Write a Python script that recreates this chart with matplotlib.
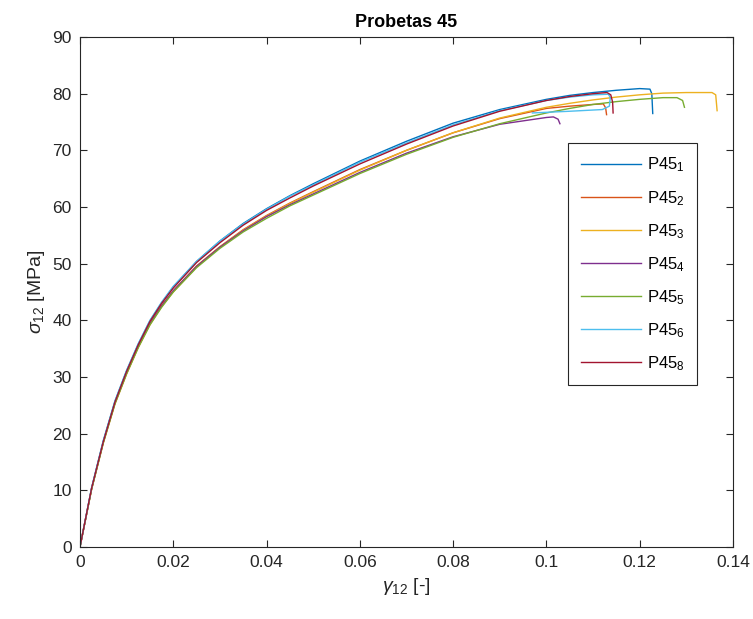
import matplotlib
matplotlib.use('Agg')
import matplotlib.pyplot as plt
from matplotlib import rcParams

rcParams['font.family'] = ['Liberation Sans', 'DejaVu Sans']
rcParams['mathtext.fontset'] = 'custom'
rcParams['mathtext.rm'] = 'Liberation Sans'
rcParams['mathtext.it'] = 'Liberation Sans:italic'
rcParams['xtick.direction'] = 'in'
rcParams['ytick.direction'] = 'in'

# strain [-] and stress [MPa], one pair per specimen
base_strain = [0, 0.0025, 0.005, 0.0075, 0.01, 0.0125, 0.015, 0.0175, 0.02,
               0.025, 0.03, 0.035, 0.04, 0.045, 0.05, 0.06, 0.07, 0.08, 0.09,
               0.10]

p1_strain = base_strain + [0.105, 0.11, 0.115, 0.12, 0.1222, 0.1226, 0.1228]
p1_stress = [0, 10.4, 18.7, 25.7, 31.1, 35.8, 39.9, 43.1, 45.9, 50.4, 54.0,
             57.1, 59.7, 62.0, 64.1, 68.1, 71.6, 74.8, 77.2, 79.0,
             79.7, 80.2, 80.6, 80.9, 80.8, 80.0, 76.5]

p2_strain = base_strain + [0.105, 0.11, 0.1122, 0.1127, 0.1129]
p2_stress = [0, 10.3, 18.5, 25.4, 30.7, 35.4, 39.4, 42.6, 45.2, 49.6, 53.0,
             56.0, 58.5, 60.7, 62.7, 66.6, 70.0, 73.1, 75.6, 77.4,
             77.8, 78.1, 78.2, 77.5, 76.3]

p3_strain = base_strain + [0.105, 0.11, 0.115, 0.12, 0.125, 0.13, 0.1355,
                           0.1363, 0.1366]
p3_stress = [0, 10.2, 18.3, 25.2, 30.5, 35.2, 39.2, 42.4, 45.0, 49.4, 52.9,
             55.9, 58.4, 60.6, 62.6, 66.5, 70.0, 73.1, 75.7, 77.6,
             78.3, 78.9, 79.4, 79.8, 80.1, 80.2, 80.2, 79.8, 77.0]

p4_strain = base_strain + [0.1015, 0.1025, 0.1029]
p4_stress = [0, 10.3, 18.5, 25.4, 30.7, 35.4, 39.4, 42.5, 45.2, 49.5, 52.9,
             55.8, 58.3, 60.4, 62.3, 66.1, 69.5, 72.4, 74.6, 75.8,
             75.9, 75.5, 74.7]

p5_strain = base_strain + [0.105, 0.11, 0.115, 0.12, 0.125, 0.128, 0.1292,
                           0.1296]
p5_stress = [0, 10.2, 18.4, 25.3, 30.6, 35.2, 39.2, 42.3, 45.0, 49.3, 52.7,
             55.6, 58.0, 60.2, 62.1, 65.9, 69.3, 72.3, 74.7, 76.6,
             77.4, 78.1, 78.6, 79.0, 79.3, 79.3, 78.8, 77.6]

p6_strain = base_strain + [0.105, 0.11, 0.1133, 0.1137, 0.1135, 0.112,
                           0.105, 0.097]
p6_stress = [0, 10.5, 18.8, 25.8, 31.2, 35.9, 40.0, 43.2, 46.0, 50.4, 54.0,
             57.0, 59.6, 61.9, 63.9, 67.9, 71.3, 74.5, 77.0, 78.8,
             79.4, 79.8, 79.9, 79.3, 77.8, 77.2, 76.9, 76.6]

p8_strain = base_strain + [0.105, 0.11, 0.113, 0.1138, 0.1142, 0.1143]
p8_stress = [0, 10.4, 18.6, 25.6, 31.0, 35.7, 39.8, 43.0, 45.7, 50.2, 53.7,
             56.8, 59.4, 61.6, 63.7, 67.6, 71.1, 74.3, 76.9, 78.8,
             79.5, 80.0, 80.2, 79.8, 78.5, 76.6]

labels = ['P45$_1$', 'P45$_2$', 'P45$_3$', 'P45$_4$', 'P45$_5$', 'P45$_6$',
          'P45$_8$']
colors = ['#0072BD', '#D95319', '#EDB120', '#7E2F8E', '#77AC30', '#4DBEEE',
          '#A2142F']

series = [(p1_strain, p1_stress), (p2_strain, p2_stress),
          (p3_strain, p3_stress), (p4_strain, p4_stress),
          (p5_strain, p5_stress), (p6_strain, p6_stress),
          (p8_strain, p8_stress)]

fig = plt.figure(figsize=(7.53, 6.19), dpi=100)
ax = fig.add_axes([0.1062, 0.1163, 0.8672, 0.8239])

for (x, y), lab, c in zip(series, labels, colors):
    ax.plot(x, y, color=c, lw=1.0, label=lab)

ax.set_xlim(0, 0.14)
ax.set_ylim(0, 90)
ax.set_xticks([0, 0.02, 0.04, 0.06, 0.08, 0.1, 0.12, 0.14])
ax.set_xticklabels(['0', '0.02', '0.04', '0.06', '0.08', '0.1', '0.12', '0.14'])
ax.set_yticks(range(0, 91, 10))

dark = '#262626'
for s in ax.spines.values():
    s.set_color(dark)
    s.set_linewidth(0.8)
ax.tick_params(top=True, right=True, colors=dark, labelsize=12.5, length=5,
               width=0.8, pad=6)

ax.set_title('Probetas 45', fontsize=13, fontweight='bold', color='black', pad=7)
ax.set_xlabel(r'$\gamma_{\mathrm{12}}$ [-]', fontsize=14, color=dark)
ax.set_ylabel(r'$\sigma_{\mathrm{12}}$ [MPa]', fontsize=14, color=dark)

leg = ax.legend(loc='upper left', bbox_to_anchor=(0.735, 0.808), fontsize=12,
                handlelength=3.6, handletextpad=0.35, labelspacing=0.86,
                borderpad=0.75, fancybox=False, framealpha=1, edgecolor=dark)
leg.get_frame().set_linewidth(0.8)

plt.savefig('out.png', dpi=100)
plt.close()
